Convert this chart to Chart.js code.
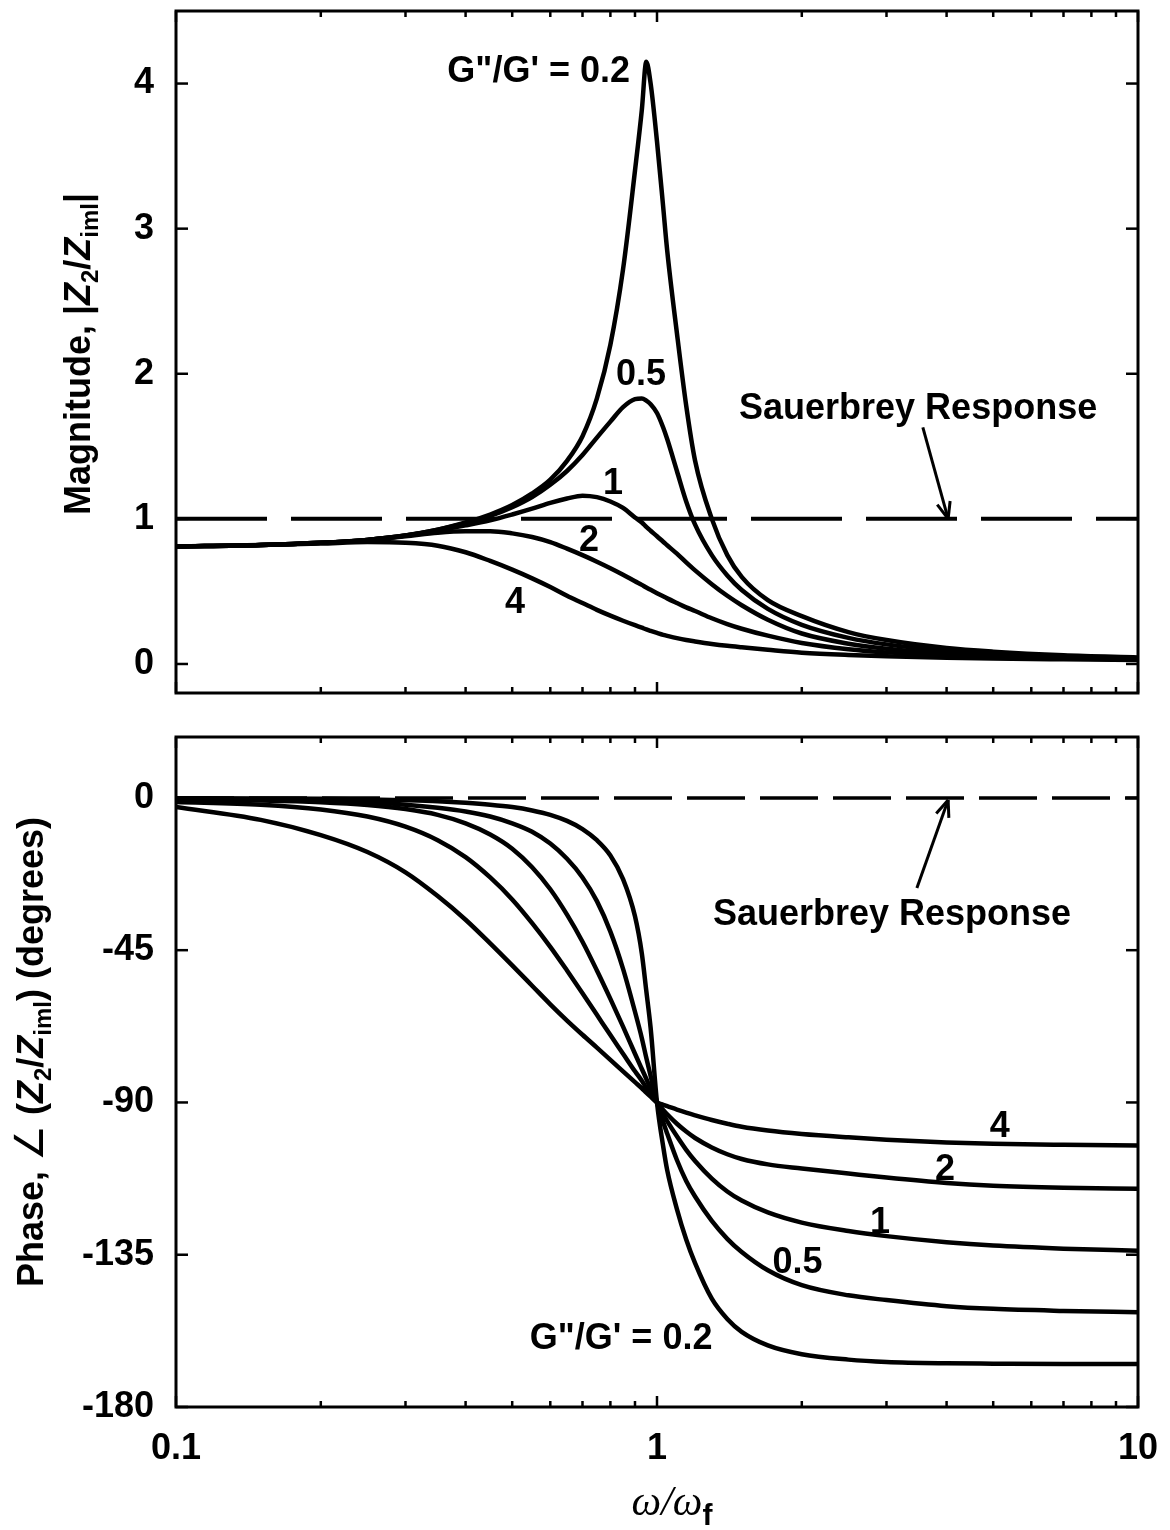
<!DOCTYPE html>
<html><head><meta charset="utf-8">
<script src="https://cdn.jsdelivr.net/npm/chart.js@4/dist/chart.umd.min.js"></script>
<style>
body{margin:0;background:#fff;width:1170px;height:1530px;position:relative;overflow:hidden}
#c1{position:absolute;left:0;top:0}
#c2{position:absolute;left:0;top:715px}
</style></head><body>
<canvas id="c1" width="1170" height="715"></canvas>
<canvas id="c2" width="1170" height="815"></canvas>
<script>
// ---------- data ----------
const xVals = [0.1,0.15,0.2,0.25,0.3,0.35,0.4,0.45,0.5,0.55,0.6,0.65,0.7,0.75,0.8,0.85,0.9,0.93,0.95,0.97,1.0,1.03,1.05,1.1,1.15,1.2,1.3,1.4,1.5,1.7,2,2.5,3,4,5,7,10];
const ratios = ['0.2','0.5','1','2','4'];
// magnitude |Z2/Ziml|
const mag02 = [0.81,0.82,0.835,0.855,0.885,0.925,0.975,1.03,1.095,1.175,1.27,1.40,1.57,1.83,2.20,2.72,3.40,3.82,4.15,4.00,3.60,3.15,2.85,2.28,1.78,1.40,1.00,0.75,0.60,0.44,0.33,0.22,0.165,0.11,0.085,0.06,0.045];
const mag05 = [0.81,0.82,0.835,0.855,0.885,0.925,0.97,1.02,1.08,1.15,1.235,1.33,1.44,1.56,1.67,1.77,1.825,1.83,1.815,1.79,1.73,1.63,1.55,1.33,1.12,0.96,0.75,0.61,0.51,0.38,0.27,0.18,0.135,0.093,0.072,0.052,0.04];
const mag1  = [0.81,0.82,0.835,0.855,0.885,0.92,0.955,0.99,1.03,1.07,1.11,1.14,1.16,1.15,1.12,1.075,1.01,0.975,0.945,0.918,0.88,0.842,0.818,0.76,0.70,0.645,0.55,0.47,0.405,0.305,0.21,0.14,0.105,0.072,0.056,0.042,0.034];
const mag2  = [0.81,0.82,0.835,0.855,0.88,0.905,0.915,0.915,0.90,0.875,0.84,0.795,0.75,0.705,0.66,0.615,0.57,0.545,0.527,0.511,0.488,0.466,0.452,0.42,0.39,0.365,0.315,0.275,0.243,0.195,0.145,0.102,0.08,0.059,0.048,0.038,0.032];
const mag4  = [0.81,0.82,0.83,0.84,0.835,0.815,0.77,0.71,0.65,0.59,0.53,0.47,0.42,0.373,0.333,0.298,0.267,0.25,0.238,0.228,0.214,0.201,0.194,0.178,0.165,0.155,0.138,0.125,0.115,0.098,0.078,0.062,0.053,0.043,0.037,0.032,0.028];
// phase angle (degrees)
const ph02 = [-0.08,-0.15,-0.28,-0.45,-0.7,-1.0,-1.45,-2.0,-2.7,-3.7,-5,-6.8,-9.2,-12.5,-17,-24,-35,-46,-57,-68,-90,-103,-110,-121.5,-130.5,-137.5,-148,-154,-157.8,-161.8,-164.4,-166,-166.7,-167.1,-167.2,-167.3,-167.3];
const ph05 = [-0.25,-0.45,-0.8,-1.3,-2.0,-2.9,-4,-5.5,-7.5,-10,-13.5,-18,-23.5,-30.5,-39.5,-50.5,-63.2,-71,-76.8,-82.2,-90,-95.8,-99.2,-107,-113.2,-117.8,-125,-130.3,-134.2,-139.6,-144,-147,-148.4,-150.2,-151,-151.6,-152];
const ph1  = [-0.5,-0.8,-1.3,-2.1,-3.3,-5,-7.5,-10.8,-15,-20.5,-27,-34.5,-42.5,-51,-59.4,-67.6,-75.6,-80.1,-83.0,-85.9,-90,-93.5,-95.5,-100,-104,-107.3,-112.5,-116.3,-119,-122.5,-125.5,-128,-129.5,-131.3,-132.3,-133.2,-133.8];
const ph2  = [-1.2,-2.0,-3.4,-5.5,-8.5,-12.5,-17.5,-23.5,-30,-37,-44,-51,-57.7,-64.1,-70.1,-75.6,-80.8,-83.6,-85.6,-87.4,-90,-92.2,-93.5,-96.3,-98.6,-100.5,-103.3,-105.3,-106.7,-108.3,-109.5,-111,-112.2,-113.8,-114.6,-115.2,-115.5];
const ph4  = [-2.7,-6.5,-11,-16,-22,-29,-36,-43,-49.5,-55.5,-61,-65.8,-70,-73.8,-77.4,-80.8,-84,-85.8,-87.1,-88.3,-90,-90.7,-91.1,-92.1,-93.0,-93.8,-95.2,-96.3,-97.2,-98.3,-99.3,-100.3,-101,-101.8,-102.2,-102.5,-102.7];
const sauerbreyX = [0.1, 10];
const sauerbreyMag = [1, 1];
const sauerbreyPhase = [0, 0];
const xTickVals = [0.1,0.2,0.3,0.4,0.5,0.6,0.7,0.8,0.9,1,2,3,4,5,6,7,8,9,10];
const xLabelVals = [0.1, 1, 10];
const magTicks = [0,1,2,3,4];
const phaseTicks = [0,-45,-90,-135,-180];

// ---------- helpers ----------
const SANS = '"Liberation Sans", Arial, sans-serif';
const FB = 'bold 36px ' + SANS;
const LF = 'bold 36px ' + SANS;
const pts = (xs, ys) => xs.map((x, i) => ({x, y: ys[i]}));
const isDecade = v => Math.abs(Math.log10(v) - Math.round(Math.log10(v))) < 1e-6;

function curve(xs, ys) {
  return {data: pts(xs, ys), showLine: true, borderColor: '#000', borderWidth: 4.5,
    pointRadius: 0, cubicInterpolationMode: 'monotone', fill: false, borderJoinStyle: 'round'};
}
function dashed(xs, ys, dash, w) {
  return {data: pts(xs, ys), showLine: true, borderColor: '#000', borderWidth: w,
    pointRadius: 0, borderDash: dash, borderCapStyle: 'butt', fill: false};
}
function drawRich(ctx, runs, x, y, rot) {
  ctx.save(); ctx.translate(x, y); ctx.rotate(rot);
  ctx.textBaseline = 'alphabetic'; ctx.textAlign = 'left'; ctx.fillStyle = '#000';
  let w = 0; runs.forEach(r => { ctx.font = r.f; w += ctx.measureText(r.t).width; });
  let cx = -w / 2;
  runs.forEach(r => { ctx.font = r.f; ctx.fillText(r.t, cx, r.dy || 0); cx += ctx.measureText(r.t).width; });
  ctx.restore();
}

const decor = {
  id: 'decor',
  afterDatasetsDraw(chart, args, o) {
    const {ctx, chartArea: a} = chart;
    const xs = chart.scales.x, ys = chart.scales.y;
    ctx.save();
    ctx.strokeStyle = '#000'; ctx.fillStyle = '#000';
    ctx.lineWidth = 3;
    ctx.strokeRect(a.left, a.top, a.right - a.left, a.bottom - a.top);
    ctx.lineWidth = 2.5;
    const seg = (x1, y1, x2, y2) => { ctx.beginPath(); ctx.moveTo(x1, y1); ctx.lineTo(x2, y2); ctx.stroke(); };
    xs.ticks.forEach(t => {
      const px = xs.getPixelForValue(t.value);
      const len = isDecade(t.value) ? 11 : 6;
      seg(px, a.bottom, px, a.bottom - len);
      seg(px, a.top, px, a.top + len);
    });
    ys.ticks.forEach(t => {
      const py = ys.getPixelForValue(t.value);
      seg(a.left, py, a.left + 12, py);
      seg(a.right, py, a.right - 12, py);
    });
    (o.labels || []).forEach(l => {
      ctx.font = LF;
      ctx.textAlign = l.align || 'center'; ctx.textBaseline = 'middle';
      ctx.fillText(l.text, xs.getPixelForValue(l.x), ys.getPixelForValue(l.y));
    });
    (o.arrows || []).forEach(ar => {
      const x1 = xs.getPixelForValue(ar.from[0]), y1 = ys.getPixelForValue(ar.from[1]);
      const x2 = xs.getPixelForValue(ar.to[0]), y2 = ys.getPixelForValue(ar.to[1]);
      ctx.lineWidth = 3;
      seg(x1, y1, x2, y2);
      const ang = Math.atan2(y2 - y1, x2 - x1);
      const L = 18, sp = 0.38;
      seg(x2, y2, x2 - L * Math.cos(ang - sp), y2 - L * Math.sin(ang - sp));
      seg(x2, y2, x2 - L * Math.cos(ang + sp), y2 - L * Math.sin(ang + sp));
    });
    ctx.restore();
    (o.titles || []).forEach(t => drawRich(ctx, t.runs, t.x, t.y, t.rot));
  }
};

function zeroPad(s) { s.paddingTop = 0; s.paddingBottom = 0; s.paddingLeft = 0; s.paddingRight = 0; }
function xScale(showLabels, h) {
  return {
    type: 'logarithmic', min: 0.1, max: 10,
    afterBuildTicks: s => { s.ticks = xTickVals.map(v => ({value: v})); },
    afterFit: s => { s.height = h; zeroPad(s); },
    grid: {display: false, drawTicks: false},
    border: {display: false},
    ticks: {display: showLabels, autoSkip: false, maxRotation: 0, padding: 20, color: '#000',
      font: {family: SANS, size: 36, weight: 'bold'},
      callback: v => xLabelVals.some(d => Math.abs(d - v) < 1e-9) ? String(v) : ''}
  };
}
function yScale(min, max, tickVals) {
  return {
    type: 'linear', min, max,
    afterBuildTicks: s => { s.ticks = tickVals.map(v => ({value: v})); },
    afterFit: s => { s.width = 176; zeroPad(s); },
    grid: {display: false, drawTicks: false},
    border: {display: false},
    ticks: {padding: 22, color: '#000', font: {family: SANS, size: 36, weight: 'bold'},
      callback: v => String(v)}
  };
}

const SUBF = 'bold 24px ' + SANS;
const ZF = 'italic bold 36px ' + SANS;

// ---------- top chart: magnitude ----------
new Chart(document.getElementById('c1'), {
  type: 'scatter',
  data: {datasets: [
    dashed(sauerbreyX, sauerbreyMag, [91, 24], 4),
    curve(xVals, mag02), curve(xVals, mag05), curve(xVals, mag1), curve(xVals, mag2), curve(xVals, mag4)
  ]},
  options: {
    responsive: false, animation: false, events: [],
    layout: {padding: {left: 0, top: 11, right: 32, bottom: 22}},
    scales: {x: xScale(false, 0), y: yScale(-0.2, 4.5, magTicks)},
    plugins: {legend: {display: false}, tooltip: {enabled: false},
      decor: {
        labels: [
          {text: 'G"/G\' = ' + ratios[0], x: 0.879, y: 4.08, align: 'right'},
          {text: ratios[1], x: 0.926, y: 1.99},
          {text: ratios[2], x: 0.81, y: 1.24},
          {text: ratios[3], x: 0.722, y: 0.85},
          {text: ratios[4], x: 0.507, y: 0.42},
          {text: 'Sauerbrey Response', x: 3.49, y: 1.76}
        ],
        arrows: [{from: [3.57, 1.63], to: [4.03, 1.0]}],
        titles: [{rot: -Math.PI / 2, x: 90, y: 354, runs: [
          {t: 'Magnitude, |', f: FB}, {t: 'Z', f: ZF}, {t: '2', f: SUBF, dy: 8},
          {t: '/', f: FB}, {t: 'Z', f: ZF}, {t: 'iml', f: SUBF, dy: 8}, {t: '|', f: FB}
        ]}]
      }
    }
  },
  plugins: [decor]
});

// ---------- bottom chart: phase ----------
new Chart(document.getElementById('c2'), {
  type: 'scatter',
  data: {datasets: [
    dashed(sauerbreyX, sauerbreyPhase, [58, 15], 3.5),
    curve(xVals, ph02), curve(xVals, ph05), curve(xVals, ph1), curve(xVals, ph2), curve(xVals, ph4)
  ]},
  options: {
    responsive: false, animation: false, events: [],
    layout: {padding: {left: 0, top: 22, right: 32, bottom: 23}},
    scales: {x: xScale(true, 100), y: yScale(-180, 18, phaseTicks)},
    plugins: {legend: {display: false}, tooltip: {enabled: false},
      decor: {
        labels: [
          {text: ratios[4], x: 5.16, y: -97.4},
          {text: ratios[3], x: 3.97, y: -110.1},
          {text: ratios[2], x: 2.91, y: -125.5},
          {text: ratios[1], x: 1.96, y: -137.4},
          {text: 'G"/G\' = ' + ratios[0], x: 0.842, y: -159.9},
          {text: 'Sauerbrey Response', x: 3.08, y: -34.6}
        ],
        arrows: [{from: [3.47, -26.6], to: [4.03, -0.6]}],
        titles: [
          {rot: -Math.PI / 2, x: 43, y: 337, runs: [
            {t: 'Phase, ', f: FB}, {t: '\u2220', f: 'normal 40px "DejaVu Sans", sans-serif'}, {t: ' (', f: FB},
            {t: 'Z', f: ZF}, {t: '2', f: SUBF, dy: 8}, {t: '/', f: FB}, {t: 'Z', f: ZF},
            {t: 'iml', f: SUBF, dy: 8}, {t: ') (degrees)', f: FB}
          ]},
          {rot: 0, x: 672, y: 800, runs: [
            {t: '\u03c9/\u03c9', f: 'italic 42px "Liberation Serif", "Times New Roman", serif'},
            {t: 'f', f: 'bold 30px ' + SANS, dy: 10}
          ]}
        ]
      }
    }
  },
  plugins: [decor]
});
</script>
</body></html>
